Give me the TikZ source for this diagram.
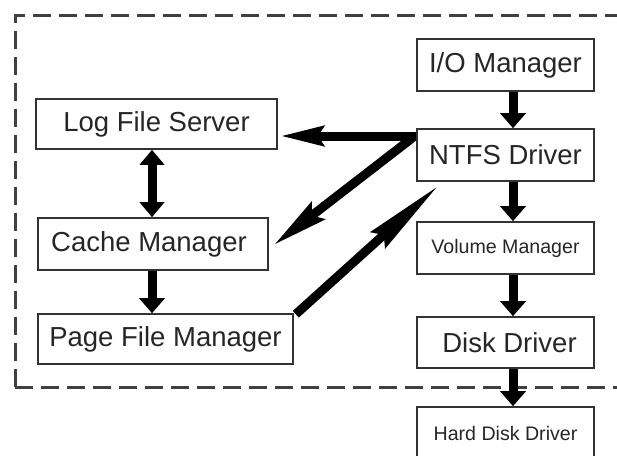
\documentclass[tikz,border=0pt]{standalone}
\usepackage{fontspec}
\setmainfont{Liberation Sans}
\usetikzlibrary{arrows.meta,calc}
\begin{document}
\begin{tikzpicture}[x=1pt,y=-1pt,
  box/.style={draw=black!80, line width=1.6pt, minimum height=52pt, inner sep=0pt,
    font=\fontsize{27.5}{30}\selectfont, text=black!85},
  smallbox/.style={box, font=\fontsize{19.6}{22}\selectfont},
  vert/.style={line width=9pt, -{Triangle[width=25pt,length=15pt]}},
  both/.style={line width=9pt, {Triangle[width=24pt,length=15pt]}-{Triangle[width=24pt,length=15pt]}},
  diag/.style={line width=9pt, -{Stealth[length=#1,width=21pt,inset=7pt]}},
  frame/.style={draw=black!75, line width=3pt, dash pattern=on 18pt off 8pt}
]
\useasboundingbox (0,0) rectangle (617,455);
\clip (0,0) rectangle (617,455);
\fill[white] (0,0) rectangle (617,455);

% dashed frame
\draw[frame] (15,387) -- (15,15) -- (640,15);
\draw[frame] (15,387) -- (640,387);

% right column
\node[box, minimum width=177pt] (io)   at (505.5,65)  {I/O Manager};
\node[box, minimum width=177pt] (ntfs) at (505.5,155) {NTFS Driver};
\node[smallbox, minimum width=177pt] (vol) at (505.5,248) {Volume Manager};
\node[box, minimum width=177pt, minimum height=51pt] (disk) at (505.5,342.5) {\hspace*{8pt}Disk Driver};
\node[smallbox, minimum width=177pt] (hdd) at (505.5,433) {Hard Disk Driver};

% left column
\node[box, minimum width=241pt, minimum height=50pt] (log)   at (156.5,124) {Log File Server};
\node[box, minimum width=230pt] (cache) at (153,244)   {Cache Manager\hspace*{8pt}};
\node[box, minimum width=255pt, minimum height=50pt] (page)  at (165.5,339) {Page File Manager};

% vertical arrows
\draw[vert] ([xshift=7.5pt]io.south)   -- ([xshift=7.5pt]ntfs.north);
\draw[vert] ([xshift=7.5pt]ntfs.south) -- ([xshift=7.5pt]vol.north);
\draw[vert] ([xshift=7.5pt]vol.south)  -- ([xshift=7.5pt]disk.north);
\draw[vert] ([xshift=7.5pt]disk.south) -- ([xshift=7.5pt]hdd.north);

\draw[both] ([xshift=-4.5pt]log.south) coordinate (lc) -- (cache.north -| lc);
\draw[vert] ([xshift=-1pt]cache.south) coordinate (cp) -- (page.north -| cp);

% connectors to and from the NTFS driver
\coordinate (s1) at ([yshift=19pt]ntfs.west);
\draw[line width=9pt, -{Stealth[length=43pt,width=19pt,inset=5pt]}] (s1) -- ([xshift=2pt]log.east |- s1);
\draw[diag=55pt] ([xshift=-4pt,yshift=-2pt]s1) -- ([xshift=5pt,yshift=-1pt]cache.east);
\draw[diag=80pt] ([xshift=2pt,yshift=-1pt]page.north east) -- ([xshift=22pt,yshift=-4pt]ntfs.south west);
\end{tikzpicture}
\end{document}
